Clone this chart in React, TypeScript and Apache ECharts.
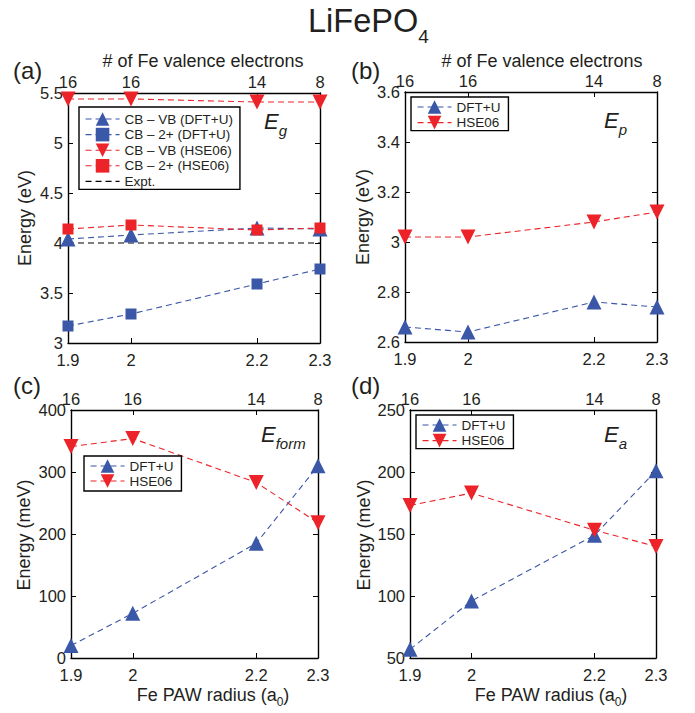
import React, { useEffect, useRef } from 'react';
import * as echarts from 'echarts';

// Fe PAW radius (bohr) and the matching number of Fe valence electrons
const radius = [1.9, 2.0, 2.2, 2.3];
const radiusLabels = ['1.9', '2', '2.2', '2.3'];
const electronLabels = ['16', '16', '14', '8'];

// (a) band gaps, eV
const gapVbDft = [4.04, 4.08, 4.15, 4.14];
const gap2Dft = [3.17, 3.29, 3.59, 3.74];
const gapVbHse = [5.44, 5.44, 5.41, 5.41];
const gap2Hse = [4.14, 4.18, 4.13, 4.15];
const gapExpt = [4.0, 4.0, 4.0, 4.0];

// (b) polaron energy, eV
const epDft = [2.66, 2.64, 2.76, 2.74];
const epHse = [3.02, 3.02, 3.08, 3.12];

// (c) formation energy, meV
const eformDft = [20, 72, 185, 310];
const eformHse = [341, 354, 283, 218];

// (d) activation energy, meV
const eaDft = [57, 96, 149, 201];
const eaHse = [173, 183, 153, 140];

// y axis ranges per panel: [min, max, interval]
const yRanges = [
  [3, 5.5, 0.5],
  [2.6, 3.6, 0.2],
  [0, 400, 100],
  [50, 250, 50],
];

const FONT = '"Liberation Sans", Arial, Helvetica, sans-serif';
const INK = '#231f20';
const BLUE = '#3b57a7';
const RED = '#ec2329';

const grids = [
  { left: 68, top: 93, width: 252, height: 250 },
  { left: 405, top: 92, width: 252, height: 250 },
  { left: 71, top: 410, width: 247, height: 248 },
  { left: 410, top: 410, width: 246, height: 248 },
];

const fmtNum = (v: number) => String(+v.toFixed(3));
const findRadius = (v: number) => radius.findIndex((r) => Math.abs(r - v) < 1e-6);

function buildAxes() {
  const xAxis: any[] = [];
  const yAxis: any[] = [];
  grids.forEach((_, i) => {
    const common = {
      type: 'value',
      gridIndex: i,
      min: 1.9,
      max: 2.3,
      splitLine: { show: false },
      axisLine: { show: true, onZero: false, lineStyle: { color: '#000', width: 1.4 } },
      axisTick: { show: true, inside: true, length: 5, customValues: radius, lineStyle: { color: '#000', width: 1 } },
    };
    xAxis.push({
      ...common,
      position: 'bottom',
      axisLabel: {
        customValues: radius,
        margin: 8,
        fontSize: 16.5,
        fontFamily: FONT,
        color: INK,
        formatter: (v: number) => {
          const k = findRadius(v);
          return k >= 0 ? radiusLabels[k] : '';
        },
      },
    });
    xAxis.push({
      ...common,
      position: 'top',
      axisLabel: {
        customValues: radius,
        margin: 3,
        fontSize: 16.5,
        fontFamily: FONT,
        color: INK,
        formatter: (v: number) => {
          const k = findRadius(v);
          return k >= 0 ? electronLabels[k] : '';
        },
      },
    });
    const [min, max, interval] = yRanges[i];
    const ycommon = {
      type: 'value',
      gridIndex: i,
      min,
      max,
      interval,
      splitLine: { show: false },
      axisLine: { show: true, onZero: false, lineStyle: { color: '#000', width: 1.4 } },
      axisTick: { show: true, inside: true, length: 5, lineStyle: { color: '#000', width: 1 } },
    };
    yAxis.push({
      ...ycommon,
      position: 'left',
      axisLabel: { margin: 5, fontSize: 16.5, fontFamily: FONT, color: INK, formatter: fmtNum },
    });
    yAxis.push({ ...ycommon, position: 'right', axisLabel: { show: false } });
  });
  return { xAxis, yAxis };
}

function line(
  name: string,
  panel: number,
  values: number[],
  color: string,
  symbol: string,
  size: number,
  rotate: number,
  z = 2,
) {
  return {
    type: 'line',
    name,
    xAxisIndex: panel * 2,
    yAxisIndex: panel * 2,
    data: radius.map((r, k) => [r, values[k]]),
    symbol,
    symbolSize: size,
    symbolRotate: rotate,
    showSymbol: true,
    z,
    itemStyle: { color },
    lineStyle: { color, width: 1.1, type: [6, 4] },
  };
}

function legend(left: number, top: number, names: string[], padding: number[], gap: number) {
  return {
    orient: 'vertical',
    left,
    top,
    data: names,
    itemWidth: 34,
    itemHeight: 17,
    itemGap: gap,
    padding,
    selectedMode: false,
    backgroundColor: '#fff',
    borderColor: '#000',
    borderWidth: 1.4,
    borderRadius: 0,
    lineStyle: { width: 1.1 },
    textStyle: { fontSize: 13.5, fontFamily: FONT, color: INK },
  };
}

function subText(x: number, y: number, main: string, sub: string, size: number, subSize: number, italic: boolean, align = 'left', rotation = 0) {
  const style = italic ? 'italic' : 'normal';
  return {
    type: 'text',
    x,
    y,
    rotation,
    silent: true,
    style: {
      text: `{m|${main}}{s|${sub}}`,
      align,
      verticalAlign: 'middle',
      fill: INK,
      rich: {
        m: { fontSize: size, fontStyle: style, fontFamily: FONT, lineHeight: size * 1.55, verticalAlign: 'middle', fill: INK },
        s: { fontSize: subSize, fontStyle: style, fontFamily: FONT, lineHeight: subSize, verticalAlign: 'bottom', fill: INK },
      },
    },
  };
}

function plainText(x: number, y: number, text: string, size: number, align = 'center', rotation = 0) {
  return {
    type: 'text',
    x,
    y,
    rotation,
    silent: true,
    style: { text, fontSize: size, fontFamily: FONT, fill: INK, align, verticalAlign: 'middle' },
  };
}

function paw(x: number, y: number) {
  return {
    type: 'text',
    x,
    y,
    silent: true,
    style: {
      text: '{m|Fe PAW radius (a}{s|0}{m|)}',
      align: 'center',
      verticalAlign: 'middle',
      fill: INK,
      rich: {
        m: { fontSize: 18, fontFamily: FONT, lineHeight: 26, verticalAlign: 'middle', fill: INK },
        s: { fontSize: 12, fontFamily: FONT, lineHeight: 12, verticalAlign: 'bottom', fill: INK },
      },
    },
  };
}

export default function App() {
  const ref = useRef<HTMLDivElement>(null);

  useEffect(() => {
    if (!ref.current) return;
    const chart = echarts.init(ref.current, null, { renderer: 'svg' });
    const { xAxis, yAxis } = buildAxes();

    const series: any[] = [
      // (a)
      line('CB – VB (DFT+U)', 0, gapVbDft, BLUE, 'triangle', 15, 0),
      line('CB – 2+ (DFT+U)', 0, gap2Dft, BLUE, 'rect', 11, 0),
      {
        ...line('Expt.', 0, gapExpt, '#000', 'circle', 0, 0, 1),
        showSymbol: false,
        itemStyle: { color: 'rgba(0,0,0,0)' },
        lineStyle: { color: '#000', width: 1.1, type: [6, 4] },
      },
      line('CB – VB (HSE06)', 0, gapVbHse, RED, 'triangle', 15, 180),
      line('CB – 2+ (HSE06)', 0, gap2Hse, RED, 'rect', 11, 0, 3),
      // (b)
      line('DFT+U', 1, epDft, BLUE, 'triangle', 15, 0),
      line('HSE06', 1, epHse, RED, 'triangle', 15, 180),
      // (c)
      line('DFT+U', 2, eformDft, BLUE, 'triangle', 15, 0),
      line('HSE06', 2, eformHse, RED, 'triangle', 15, 180),
      // (d)
      line('DFT+U', 3, eaDft, BLUE, 'triangle', 15, 0),
      line('HSE06', 3, eaHse, RED, 'triangle', 15, 180, 3),
    ];

    const option: any = {
      animation: false,
      backgroundColor: '#fff',
      grid: grids.map((g) => ({ ...g, containLabel: false, outerBoundsMode: 'none' })),
      xAxis,
      yAxis,
      legend: [
        legend(79, 107, ['CB – VB (DFT+U)', 'CB – 2+ (DFT+U)', 'CB – VB (HSE06)', 'CB – 2+ (HSE06)', 'Expt.'], [5, 7, 1, 6], 1.6),
        legend(411, 97, ['DFT+U', 'HSE06'], [3, 8, 1, 6], 1.6),
        legend(84, 456, ['DFT+U', 'HSE06'], [3, 8, 3, 6], 1),
        legend(416, 415, ['DFT+U', 'HSE06'], [3, 8, 1, 6], 1.6),
      ],
      series,
      graphic: [
        subText(308, 21, 'LiFePO', '4', 32.5, 19, false),
        plainText(13, 70, '(a)', 24, 'left'),
        plainText(351, 70, '(b)', 24, 'left'),
        plainText(13, 385, '(c)', 24, 'left'),
        plainText(351, 385, '(d)', 24, 'left'),
        plainText(203, 61, '# of Fe valence electrons', 18),
        plainText(542, 61, '# of Fe valence electrons', 18),
        plainText(25, 218, 'Energy (eV)', 18, 'center', Math.PI / 2),
        plainText(363, 217, 'Energy (eV)', 18, 'center', Math.PI / 2),
        plainText(24, 535, 'Energy (meV)', 18, 'center', Math.PI / 2),
        plainText(364, 535, 'Energy (meV)', 18, 'center', Math.PI / 2),
        paw(213, 695),
        paw(551, 695),
        subText(264, 121, 'E', 'g', 22, 15, true),
        subText(604, 120, 'E', 'p', 22, 15, true),
        subText(261, 434, 'E', 'form', 22, 15, true),
        subText(604, 434, 'E', 'a', 22, 15, true),
      ],
    };

    chart.setOption(option);
    return () => chart.dispose();
  }, []);

  return (
    <div
      ref={ref}
      style={{ position: 'fixed', left: 0, top: 0, width: 695, height: 713, background: '#fff' }}
    />
  );
}
